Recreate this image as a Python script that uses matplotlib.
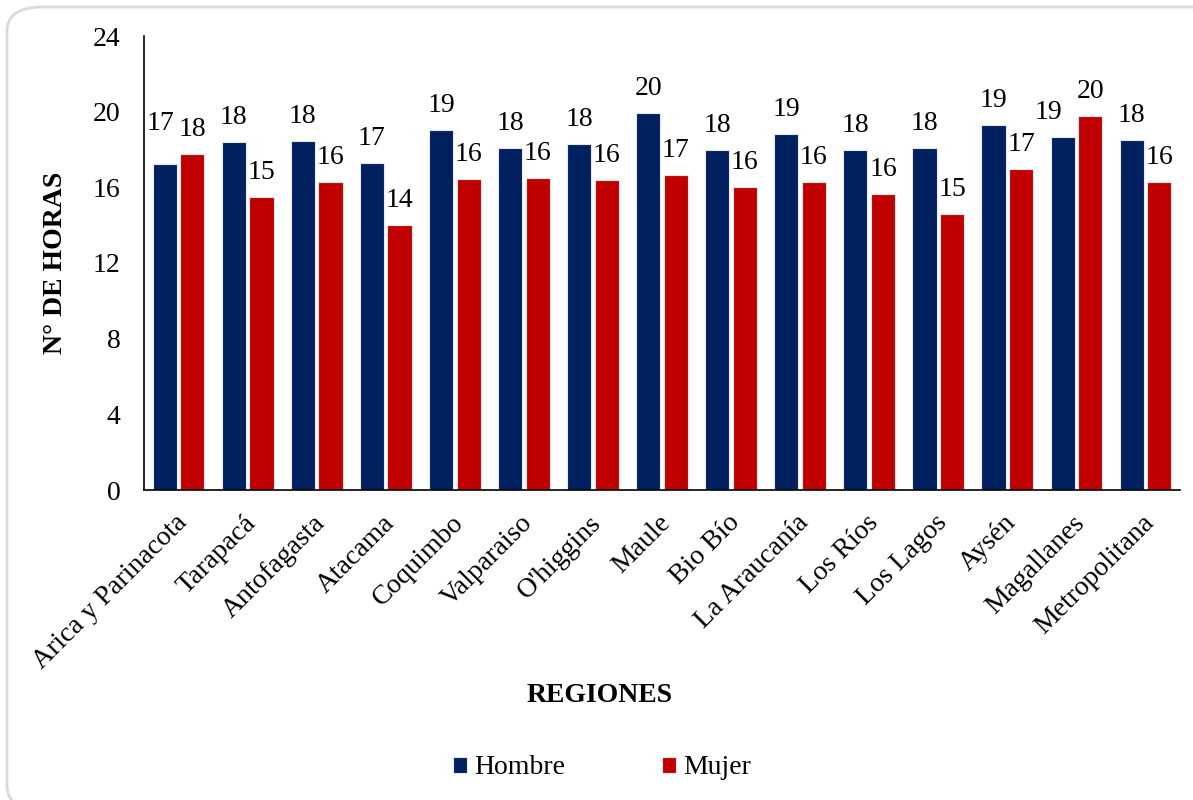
import matplotlib.pyplot as plt
import numpy as np
from matplotlib.patches import FancyBboxPatch
from matplotlib.transforms import ScaledTranslation

plt.rcParams['font.family'] = ['Liberation Serif', 'DejaVu Serif']

regiones = ["Arica y Parinacota", "Tarapacá", "Antofagasta", "Atacama", "Coquimbo",
            "Valparaiso", "O'higgins", "Maule", "Bio Bío", "La Araucanía",
            "Los Ríos", "Los Lagos", "Aysén", "Magallanes", "Metropolitana"]
hombre = [17.25, 18.40, 18.45, 17.27, 19.01, 18.10, 18.27, 19.93, 17.99, 18.84,
          17.96, 18.10, 19.28, 18.64, 18.48]
mujer = [17.76, 15.49, 16.26, 14.01, 16.44, 16.47, 16.37, 16.67, 16.03, 16.30,
         15.66, 14.61, 16.95, 19.79, 16.30]

AZUL = '#002060'
ROJO = '#C00000'
FS = 20

W, H = 1193, 800
fig = plt.figure(figsize=(W / 100, H / 100), dpi=100)

# marco redondeado alrededor del gráfico
marco = FancyBboxPatch((7 / W, -10 / H), 1.2, (H - 7 + 10) / H,
                       boxstyle="round,pad=0,rounding_size=0.03",
                       transform=fig.transFigure, facecolor='none',
                       edgecolor='#d9d9d9', linewidth=2, clip_on=False)
fig.patches.append(marco)

ax = fig.add_axes([144 / W, 310 / H, 1036 / W, 454 / H])

x = np.arange(len(regiones))
ancho = 0.35
b1 = ax.bar(x - 0.2, hombre, ancho, color=AZUL, edgecolor='#e8e8e8', linewidth=0.8, label='Hombre')
b2 = ax.bar(x + 0.2, mujer, ancho, color=ROJO, edgecolor='#e8e8e8', linewidth=0.8, label='Mujer')

# desplazamiento (px) de algunas etiquetas para que no se pisen
ajuste_h = {0: (-4, 16), 13: (-14, 0)}

for i, v in enumerate(hombre):
    dx, dy = ajuste_h.get(i, (0, 0))
    ax.annotate(f'{v:.0f}', (x[i] - 0.2, v), xytext=(dx * 0.72, 13 + dy * 0.72),
                textcoords='offset points', ha='center', va='baseline', fontsize=FS)
for i, v in enumerate(mujer):
    ax.annotate(f'{v:.0f}', (x[i] + 0.2, v), xytext=(0, 13), textcoords='offset points',
                ha='center', va='baseline', fontsize=FS)

ax.set_ylim(0, 24)
ax.set_yticks(np.arange(0, 25, 4))
ax.set_xlim(-0.5, len(regiones) - 0.5)
ax.set_xticks(x)
ax.set_xticklabels(regiones, rotation=45, ha='right', va='center', rotation_mode='anchor')
ax.tick_params(axis='both', length=0, labelsize=FS)
ax.tick_params(axis='y', pad=17)
ax.tick_params(axis='x', pad=21)

desplaza = ScaledTranslation(5 / 100, 0, fig.dpi_scale_trans)
for lbl in ax.get_xticklabels():
    lbl.set_transform(lbl.get_transform() + desplaza)

for s in ['top', 'right']:
    ax.spines[s].set_visible(False)
for s in ['left', 'bottom']:
    ax.spines[s].set_color('black')
    ax.spines[s].set_linewidth(1.2)

fig.text(55 / W, 1 - 263 / H, 'N° DE HORAS', rotation=90, ha='center', va='center',
         fontsize=FS, fontweight='bold')
fig.text(600 / W, 1 - 696 / H, 'REGIONES', ha='center', va='center',
         fontsize=FS, fontweight='bold')

fig.legend(handles=[b1, b2], labels=['Hombre', 'Mujer'], loc='center',
           bbox_to_anchor=(602 / W, 1 - 768 / H), ncol=2, frameon=False,
           fontsize=FS, handlelength=0.5, handleheight=0.5,
           handletextpad=0.25, columnspacing=3.5)

fig.savefig('out.png', dpi=100)
